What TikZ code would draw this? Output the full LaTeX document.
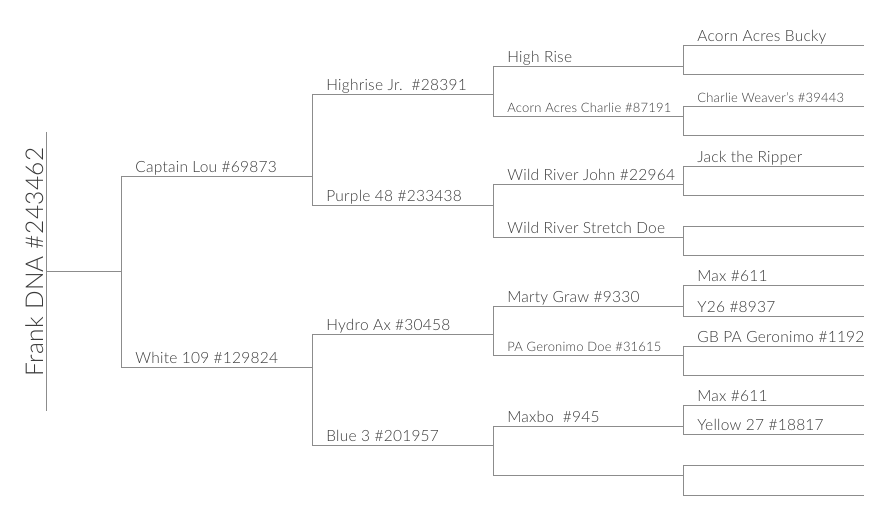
\documentclass[tikz,border=0pt]{standalone}
\usepackage{fontspec}
\setmainfont{Lato Light}[LetterSpace=1.5]
\usetikzlibrary{positioning}
\definecolor{treeline}{HTML}{8C8C8C}
\definecolor{treetext}{HTML}{3A3A3A}

\begin{document}
\begin{tikzpicture}[x=1pt, y=-1pt, line width=0.8pt, draw=treeline,
  every node/.style={inner sep=0pt, anchor=base west, text=treetext, font=\fontsize{15.5}{15.5}\selectfont},
  lbl/.style={xshift=14pt, yshift=3pt},
  big/.style={font=\fontsize{15.5}{15.5}\selectfont},
  small/.style={font=\fontsize{13}{13}\selectfont}]
\useasboundingbox (0,0) rectangle (884,526);
% columns of the pedigree
\coordinate (c1) at (121,0); \coordinate (c2) at (312,0); \coordinate (c3) at (493,0);
\coordinate (c4) at (683,0); \coordinate (c5) at (864,0);

% the dog itself
\node[rotate=90, font=\fontsize{24.5}{24.5}\selectfont] (frank) at (43,377) {Frank DNA \#243462};
\coordinate (top) at (46,132); \coordinate (bot) at (46,411); \coordinate (root) at (46,271);
\draw[treeline] (top) -- (bot);
\draw[treeline] (root) -- (root -| c1);

% parents
\foreach \n/\y/\s/\t in {lou/176/big/{Captain Lou \#69873}, white/367/big/{White 109 \#129824}} {
  \coordinate (\n) at (121,\y);
  \draw[treeline] (\n) -- (\n -| c2);
  \node[lbl,\s] (\n-t) at (\n) {\t};
}
% grandparents
\foreach \n/\y/\s/\t in {hij/94/big/{Highrise Jr.\ \ \#28391}, purple/205/big/{Purple 48 \#233438},
    hydro/334/big/{Hydro Ax \#30458}, blue/445/big/{Blue 3 \#201957}} {
  \coordinate (\n) at (312,\y);
  \draw[treeline] (\n) -- (\n -| c3);
  \node[lbl,\s] (\n-t) at (\n) {\t};
}
% great-grandparents
\foreach \n/\y/\s/\t in {highrise/66/big/{High Rise}, charlie/116/small/{Acorn Acres Charlie \#87191},
    john/184/big/{Wild River John \#22964}, stretch/237/big/{Wild River Stretch Doe},
    marty/306/big/{Marty Graw \#9330}, pagdoe/355/small/{PA Geronimo Doe \#31615},
    maxbo/426/big/{Maxbo\ \ \#945}, bdam/475/big/{}} {
  \coordinate (\n) at (493,\y);
  \draw[treeline] (\n) -- (\n -| c4);
  \node[lbl,\s] (\n-t) at (\n) {\t};
}
% great-great-grandparents
\foreach \n/\y/\s/\t in {bucky/45/big/{Acorn Acres Bucky}, hrdam/74/big/{},
    weaver/106/small/{Charlie Weaver’s \#39443}, acdam/135/big/{},
    jack/166/big/{Jack the Ripper}, jdam/195/big/{},
    wsire/226/big/{}, wdam/255/big/{},
    maxa/285/big/{Max \#611}, y26/316/big/{Y26 \#8937},
    gbpa/346/big/{GB PA Geronimo \#1192}, pdam/375/big/{},
    maxb/405/big/{Max \#611}, yellow/434/big/{Yellow 27 \#18817},
    msire/465/big/{}, mdam/495/big/{}} {
  \coordinate (\n) at (683,\y);
  \draw[treeline] (\n) -- (\n -| c5);
  \node[lbl,\s] (\n-t) at (\n) {\t};
}

% brackets between siblings
\foreach \a/\b in {lou/white, hij/purple, hydro/blue, highrise/charlie, john/stretch,
    marty/pagdoe, maxbo/bdam, bucky/hrdam, weaver/acdam, jack/jdam, wsire/wdam,
    maxa/y26, gbpa/pdam, maxb/yellow, msire/mdam}
  \draw[treeline] (\a) -- (\b);
\end{tikzpicture}
\end{document}
